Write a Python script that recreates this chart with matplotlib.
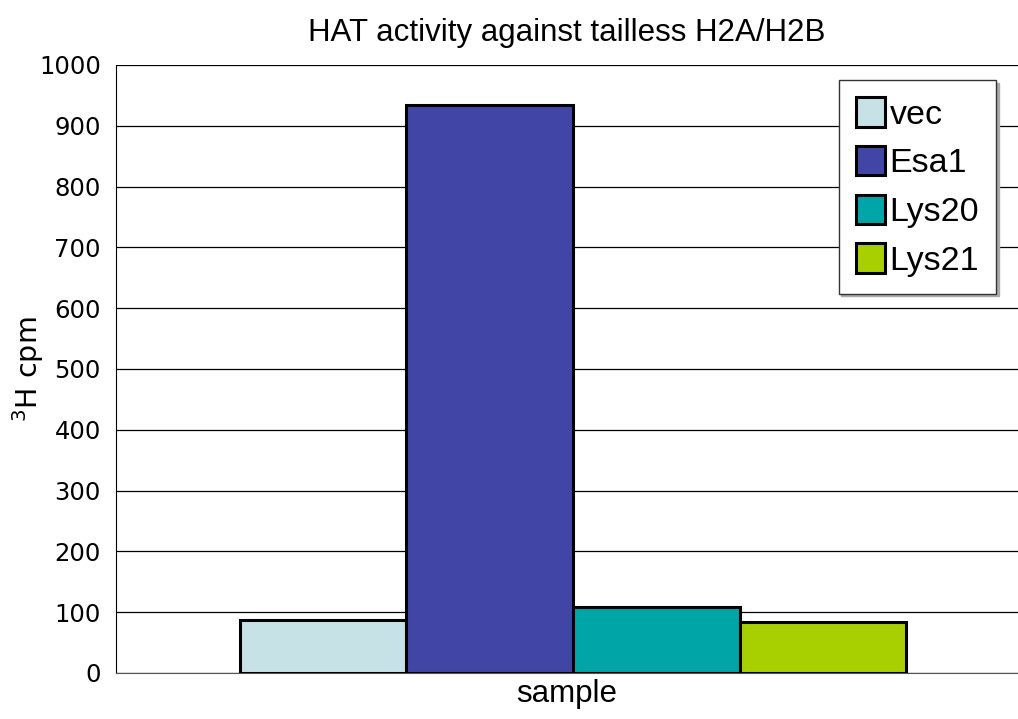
import matplotlib
matplotlib.use("Agg")
import matplotlib.pyplot as plt

series = ["vec", "Esa1", "Lys20", "Lys21"]
values = [87, 935, 108, 84]
colors = ["#C6E2E6", "#4146A6", "#00A5A8", "#A8CF00"]
yticks = [0, 100, 200, 300, 400, 500, 600, 700, 800, 900, 1000]

fig = plt.figure(figsize=(10.18, 7.19), dpi=100)
ax = fig.add_axes([0.114, 0.064, 0.886, 0.8456])

for i, (s, v, c) in enumerate(zip(series, values, colors)):
    ax.bar(i, v, width=1.0, color=c, edgecolor="black", linewidth=2.2, label=s, zorder=3)

ax.set_xlim(-1.243, 4.17)
ax.set_ylim(0, 1000)
ax.set_yticks(yticks)
ax.set_yticklabels([str(t) for t in yticks], fontsize=17.5, family="DejaVu Sans")
ax.tick_params(axis="y", length=0, pad=11)
ax.set_xticks([])
ax.yaxis.grid(True, color="black", linewidth=0.9, zorder=0)
ax.spines["top"].set_visible(False)
ax.spines["right"].set_visible(False)
ax.spines["left"].set_color("black")
ax.spines["bottom"].set_color("#555555")

ax.set_title("HAT activity against tailless H2A/H2B", fontsize=22.5, pad=17, family="Liberation Sans")
ax.set_ylabel("$^3$H cpm", fontsize=20.5, family="DejaVu Sans")
ax.yaxis.set_label_coords(-0.078, 0.5)
ax.set_xlabel("sample", fontsize=22.5, family="Liberation Sans", labelpad=4)

leg = ax.legend(loc="upper right", bbox_to_anchor=(0.976, 0.975), prop={"family": "Liberation Sans", "size": 24.5},
                frameon=True, fancybox=False, shadow={"color": "#aaaaaa", "alpha": 1.0},
                edgecolor="#333333", handlelength=0.85, handleheight=0.95, handletextpad=0.15,
                borderpad=0.5, labelspacing=0.45, borderaxespad=0)
leg.get_frame().set_linewidth(1.0)

fig.savefig("out.png", dpi=100)
